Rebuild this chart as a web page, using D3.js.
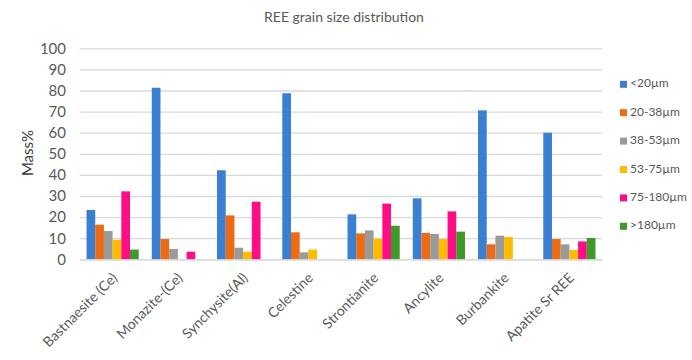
<!DOCTYPE html>
<html><head><meta charset="utf-8">
<script src="https://cdn.jsdelivr.net/npm/d3@7"></script>
<style>body{margin:0;background:#fff}svg{display:block;font-family:Lato,"Open Sans",sans-serif}</style>
</head><body><svg id="c" width="692" height="360"></svg>
<script>
const categories = ["Bastnaesite (Ce)","Monazite-(Ce)","Synchysite(Al)","Celestine","Strontianite","Ancylite","Burbankite","Apatite Sr REE"];
const seriesNames = ["<20µm","20-38µm","38-53µm","53-75µm","75-180µm",">180µm"];
const s_lt20   = [23.4, 81.3, 42.2, 78.7, 21.3, 28.9, 70.6, 60.0];
const s_20_38  = [16.4,  9.6, 20.8, 12.8, 12.3, 12.5,  7.1,  9.6];
const s_38_53  = [13.4,  4.9,  5.5,  3.3, 13.7, 12.0, 11.2,  7.1];
const s_53_75  = [ 9.3,  0,    3.6,  4.6,  9.8,  9.6, 10.6,  4.4];
const s_75_180 = [32.2,  3.6, 27.3,  0,   26.4, 22.7,  0,    8.5];
const s_gt180  = [ 4.6,  0,    0,    0,   15.9, 13.1,  0,   10.1];
const yTicks = [0,10,20,30,40,50,60,70,80,90,100];
const colors = ["#3a7fd2","#ec6b14","#9a9a9a","#ffbb00","#ff0d86","#3e9a28"];
const seriesVals = [s_lt20,s_20_38,s_38_53,s_53_75,s_75_180,s_gt180];

const svg = d3.select("#c");
const L=80, R=602, T=48.3, B=259.3;
const x = d3.scaleBand().domain(categories).range([L,R]).paddingInner(0.2).paddingOuter(0.1);
const xs = d3.scaleBand().domain(seriesNames).range([0,x.bandwidth()]);
const y = d3.scaleLinear().domain([0,100]).range([B,T]);

svg.append("text").attr("x",344).attr("y",22).attr("text-anchor","middle")
  .attr("fill","#595959").attr("font-size",14).text("REE grain size distribution");

const gy = svg.append("g").attr("transform",`translate(${L},0)`)
  .call(d3.axisLeft(y).tickValues(yTicks).tickSize(-(R-L)).tickPadding(14));
gy.select(".domain").remove();
gy.selectAll(".tick line").attr("stroke","#d9d9d9").attr("stroke-width",1.3);
gy.selectAll(".tick text").attr("fill","#595959").attr("font-size",15).attr("font-family","Lato,sans-serif");

svg.append("text").attr("transform","translate(33,153) rotate(-90)").attr("text-anchor","middle")
  .attr("fill","#404040").attr("font-size",15).text("Mass%");

seriesVals.forEach((vals,si)=>{
  svg.append("g").selectAll("rect").data(vals).join("rect")
    .attr("x",(d,i)=>x(categories[i])+xs(seriesNames[si]))
    .attr("width",xs.bandwidth())
    .attr("y",d=>y(d)).attr("height",d=>B-y(d))
    .attr("fill",colors[si]);
});

const gx = svg.append("g").attr("transform",`translate(0,${B})`)
  .call(d3.axisBottom(x).tickSize(0).tickPadding(0));
gx.select(".domain").attr("stroke","#d9d9d9").attr("stroke-width",1.3);
gx.selectAll(".tick text").attr("fill","#595959").attr("font-size",14).attr("font-family","Lato,sans-serif")
  .attr("text-anchor","end").attr("dy",null).attr("dominant-baseline","middle")
  .attr("transform","translate(3,17) rotate(-45)");

const lg = svg.append("g");
seriesNames.forEach((n,i)=>{
  const yy = 84.3 + i*28.4;
  lg.append("rect").attr("x",620).attr("y",yy-3.5).attr("width",7).attr("height",7).attr("fill",colors[i]);
  lg.append("text").attr("x",630).attr("y",yy).attr("dominant-baseline","middle")
    .attr("fill","#595959").attr("font-size",12).text(n);
});
</script></body></html>
